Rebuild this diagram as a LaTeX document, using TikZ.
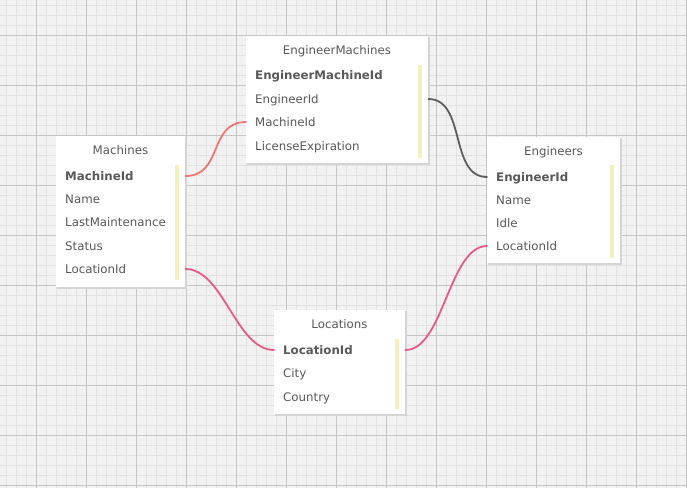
\documentclass[tikz,border=0pt]{standalone}
\usepackage{fontspec}
\setmainfont{DejaVu Sans}
\newfontfamily\dvb{DejaVu Sans}
\definecolor{bgc}{HTML}{F2F2F2}
\definecolor{minorc}{HTML}{E2E2E2}
\definecolor{majorc}{HTML}{C6C6C6}
\definecolor{txtc}{HTML}{595959}
\definecolor{barc}{HTML}{F3F0C0}
\definecolor{salmonc}{HTML}{F07676}
\definecolor{pinkc}{HTML}{EA5A86}
\definecolor{darkc}{HTML}{5E5E5E}
\definecolor{shadc}{HTML}{D4D4D4}
\tikzset{
  tbl/.style={fill=white, draw=none, anchor=north west, inner sep=0pt},
  shad/.style={fill=shadc, draw=none},
  ttl/.style={text=txtc, font=\fontsize{11.8}{14}\selectfont, inner sep=0pt, text height=8.6pt, text depth=0pt, anchor=center},
  fld/.style={text=txtc, font=\fontsize{11.8}{14}\selectfont, inner sep=0pt, text height=8.6pt, text depth=0pt, anchor=west},
  key/.style={fld, font=\fontsize{11.8}{14}\selectfont\bfseries},
  bar/.style={fill=barc, draw=none},
  rel/.style={line width=1.8pt, line cap=round},
}
\begin{document}
\begin{tikzpicture}[x=1pt,y=-1pt]
\useasboundingbox (0,0) rectangle (687,488);
\fill[bgc] (0,0) rectangle (687,488);
\foreach \i in {6,16,...,686} \draw[minorc, line width=1pt] (\i,0) -- (\i,488);
\foreach \j in {5,15,...,485} \draw[minorc, line width=1pt] (0,\j) -- (687,\j);
\foreach \i in {36,86,...,686} \draw[majorc, line width=1pt] (\i,0) -- (\i,488);
\foreach \j in {35,85,...,485} \draw[majorc, line width=1pt] (0,\j) -- (687,\j);

% shadows
\fill[shad] (57,137) rectangle (186.5,288.5);
\fill[shad] (247,37) rectangle (429.5,164.5);
\fill[shad] (488,138) rectangle (621.5,264.5);
\fill[shad] (275,311) rectangle (406.5,415.5);

% Machines
\node[tbl, minimum width=129pt, minimum height=151pt] (mach) at (56,136) {};
\node[ttl] (machT) at (120.5,150) {Machines};
\fill[bar] (175,165) rectangle (178.5,280);
\node[key] (machId) at (65,176) {MachineId};
\node[fld] (machName) at (65,199) {Name};
\node[fld] (machLast) at (65,222) {LastMaintenance};
\node[fld] (machStatus) at (65,246) {Status};
\node[fld] (machLoc) at (65,269) {LocationId};

% EngineerMachines
\node[tbl, minimum width=182pt, minimum height=127pt] (em) at (246,36) {};
\node[ttl] (emT) at (337,50) {EngineerMachines};
\fill[bar] (418,65) rectangle (421.5,158);
\node[key] (emId) at (255,75) {EngineerMachineId};
\node[fld] (emEng) at (255,99) {EngineerId};
\node[fld] (emMach) at (255,122) {MachineId};
\node[fld] (emLic) at (255,146) {LicenseExpiration};

% Engineers
\node[tbl, minimum width=133pt, minimum height=126pt] (eng) at (487,137) {};
\node[ttl] (engT) at (553.5,151) {Engineers};
\fill[bar] (610,165) rectangle (613.5,258);
\node[key] (engId) at (496,177) {EngineerId};
\node[fld] (engName) at (496,200) {Name};
\node[fld] (engIdle) at (496,223) {Idle};
\node[fld] (engLoc) at (496,246) {LocationId};

% Locations
\node[tbl, minimum width=131pt, minimum height=104pt] (loc) at (274,310) {};
\node[ttl] (locT) at (339.5,324) {Locations};
\fill[bar] (395,339) rectangle (398.5,409);
\node[key] (locId) at (283,350) {LocationId};
\node[fld] (locCity) at (283,373) {City};
\node[fld] (locCountry) at (283,397) {Country};

% relations
\draw[rel, salmonc] (mach.east |- machId) .. controls +(38,0) and +(-38,0) .. (em.west |- emMach);
\draw[rel, darkc] (em.east |- emEng) .. controls +(38,0) and +(-38,0) .. (eng.west |- engId);
\draw[rel, pinkc] (mach.east |- machLoc) .. controls +(38,0) and +(-38,0) .. (loc.west |- locId);
\draw[rel, pinkc] (loc.east |- locId) .. controls +(38,0) and +(-38,0) .. (eng.west |- engLoc);
\end{tikzpicture}
\end{document}
